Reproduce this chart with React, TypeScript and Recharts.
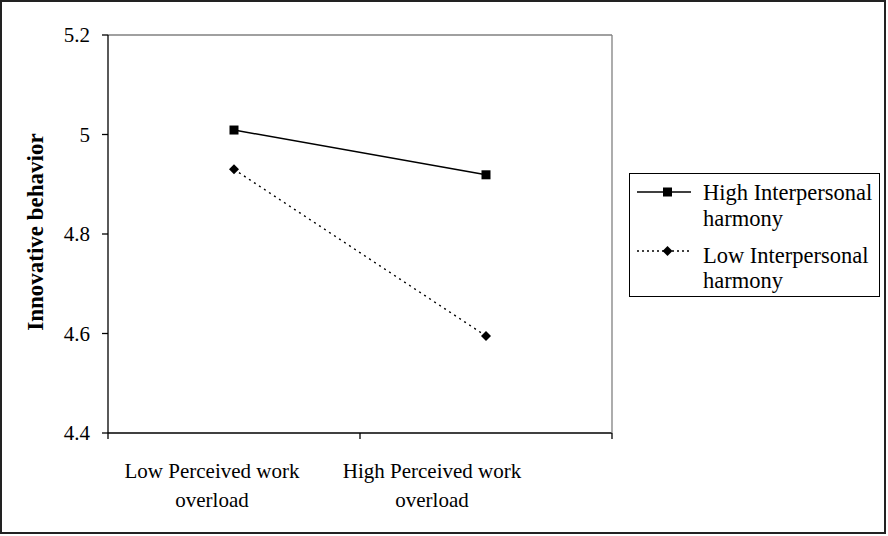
import { LineChart, Line, XAxis, YAxis, Legend } from 'recharts'

const categories = ['Low Perceived work overload', 'High Perceived work overload']
const categoryLines = [
  ['Low Perceived work', 'overload'],
  ['High Perceived work', 'overload'],
]
const highHarmony = [5.009, 4.919]
const lowHarmony = [4.93, 4.595]
const yTicks = [4.4, 4.6, 4.8, 5, 5.2]
const bandEdges = [0, 1, 2]
// edges get a tick mark, centres get the category label
const xTicks = [0, 0.5, 1, 1.5, 2]
const seriesNames = ['High Interpersonal harmony', 'Low Interpersonal harmony']

const data = categories.map((category, i) => ({
  pos: i + 0.5,
  category,
  high: highHarmony[i],
  low: lowHarmony[i],
}))

const FONT = "'Liberation Serif', 'DejaVu Serif', serif"
const labelShift = [-22, -54]

function SquareDot(props: any) {
  const { cx, cy } = props
  if (cx == null || cy == null) return null
  return <rect x={cx - 4.5} y={cy - 4.5} width={9} height={9} fill="#000" />
}

function DiamondDot(props: any) {
  const { cx, cy } = props
  if (cx == null || cy == null) return null
  const r = 5
  return <polygon points={`${cx},${cy - r} ${cx + r},${cy} ${cx},${cy + r} ${cx - r},${cy}`} fill="#000" />
}

function NoTick() {
  return <g />
}

function BottomTick(props: any) {
  const { x, y, payload } = props
  const v = payload?.value
  if (Number.isInteger(v)) {
    return <line x1={x} y1={y} x2={x} y2={y + 6} stroke="#000" strokeWidth={1.3} />
  }
  const idx = Math.floor(v)
  const lines = categoryLines[idx] || []
  const tx = x + (labelShift[idx] || 0)
  return (
    <text x={tx} y={y} textAnchor="middle" fill="#000" style={{ fontSize: 21, fontFamily: FONT }}>
      {lines.map((ln, i) => (
        <tspan key={i} x={tx} dy={i === 0 ? 45 : 29}>{ln}</tspan>
      ))}
    </text>
  )
}

function YLabel(props: any) {
  const vb = props.viewBox || { x: 48, y: 35, width: 60, height: 398 }
  const cx = vb.x - 13
  const cy = vb.y + vb.height / 2 - 2
  return (
    <text
      x={cx}
      y={cy}
      transform={`rotate(-90 ${cx} ${cy})`}
      textAnchor="middle"
      dominantBaseline="central"
      fill="#000"
      style={{ fontSize: 23, fontWeight: 'bold', fontFamily: FONT }}
    >
      Innovative behavior
    </text>
  )
}

function LegendBox() {
  const txt = { fontSize: 22.5, fontFamily: FONT }
  return (
    <div
      style={{
        width: 251,
        height: 124,
        border: '1px solid #000',
        boxSizing: 'border-box',
        background: '#fff',
      }}
    >
      <svg width={249} height={122} style={{ display: 'block' }}>
        <line x1={7} y1={18} x2={61} y2={18} stroke="#000" strokeWidth={1.3} />
        <rect x={33} y={13.5} width={9} height={9} fill="#000" />
        <text x={73} y={26} fill="#000" style={txt}>High Interpersonal</text>
        <text x={73} y={52} fill="#000" style={txt}>harmony</text>

        <line x1={7} y1={77} x2={61} y2={77} stroke="#000" strokeWidth={1.3} strokeDasharray="2 3" />
        <polygon points="37.5,72 42.5,77 37.5,82 32.5,77" fill="#000" />
        <text x={73} y={89} fill="#000" style={txt}>Low Interpersonal</text>
        <text x={73} y={114} fill="#000" style={txt}>harmony</text>
      </svg>
    </div>
  )
}

export default function App() {
  return (
    <div style={{ position: 'absolute', left: 0, top: 0, width: 888, height: 536, background: '#fff', fontFamily: FONT }}>
      <LineChart
        width={888}
        height={536}
        data={data}
        margin={{ top: 34, right: 24, bottom: 43, left: 48 }}
      >
        <XAxis
          xAxisId="main"
          dataKey="pos"
          type="number"
          domain={[0, 2]}
          ticks={xTicks}
          interval={0}
          allowDataOverflow
          height={60}
          tick={<BottomTick />}
          tickSize={0}
          tickMargin={0}
          tickLine={false}
          axisLine={{ stroke: '#000', strokeWidth: 1.3 }}
        />
        <XAxis
          xAxisId="top"
          orientation="top"
          dataKey="pos"
          type="number"
          domain={[0, 2]}
          ticks={bandEdges}
          interval={0}
          allowDataOverflow
          height={1}
          tick={NoTick}
          tickLine={false}
          axisLine={{ stroke: '#808080', strokeWidth: 1.3 }}
        />
        <YAxis
          yAxisId="left"
          domain={[4.4, 5.2]}
          ticks={yTicks}
          interval={0}
          allowDataOverflow
          width={60}
          tickSize={6}
          tickMargin={12}
          axisLine={{ stroke: '#000', strokeWidth: 1.3 }}
          tickLine={{ stroke: '#000', strokeWidth: 1.3 }}
          tick={{ fill: '#000', fontSize: 21, fontFamily: FONT }}
          label={{ content: YLabel }}
        />
        <YAxis
          yAxisId="right"
          orientation="right"
          domain={[4.4, 5.2]}
          ticks={yTicks}
          interval={0}
          allowDataOverflow
          width={1}
          tick={NoTick}
          tickLine={false}
          axisLine={{ stroke: '#808080', strokeWidth: 1.3 }}
        />
        <Legend
          layout="vertical"
          align="right"
          verticalAlign="middle"
          content={<LegendBox />}
          wrapperStyle={{ top: 173, right: 8 }}
        />
        <Line
          xAxisId="main"
          yAxisId="left"
          dataKey="high"
          name={seriesNames[0]}
          stroke="#000"
          strokeWidth={1.4}
          dot={<SquareDot />}
          activeDot={false}
          isAnimationActive={false}
        />
        <Line
          xAxisId="main"
          yAxisId="left"
          dataKey="low"
          name={seriesNames[1]}
          stroke="#000"
          strokeWidth={1.4}
          strokeDasharray="2 4"
          dot={<DiamondDot />}
          activeDot={false}
          isAnimationActive={false}
        />
      </LineChart>
      <div
        style={{
          position: 'absolute',
          left: 0,
          top: 0,
          width: 886,
          height: 534,
          border: '2px solid #222',
          boxSizing: 'border-box',
          pointerEvents: 'none',
        }}
      />
    </div>
  )
}
